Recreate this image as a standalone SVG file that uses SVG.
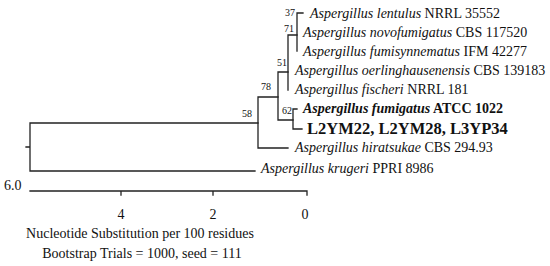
<svg xmlns="http://www.w3.org/2000/svg" width="550" height="266" viewBox="0 0 550 266" font-family="'Liberation Serif','Times New Roman',serif">
<style>
.e{stroke:#222;stroke-width:1.3;fill:none;stroke-linecap:square}
text{font-family:"Liberation Serif","Times New Roman",serif;fill:#111}
.t{font-size:14px}
.b{font-size:10px}
.i{font-style:italic}
.bd{font-weight:bold}
.bl{font-size:16.5px;font-weight:bold}
</style>
<rect width="550" height="266" fill="#fff"/>
<g id="connectors">
<path class="e" d="M26,147H30M30,123V171M30,123H258M30,171H255"/>
<path class="e" d="M258,97V148M258,148H288M258,97H278"/>
<path class="e" d="M278,72V120M278,72H288M278,120H293"/>
<path class="e" d="M288,35V90M288,35H297"/>
<path class="e" d="M297,13V51M297,13H303"/>
<path class="e" d="M293,109V129M293,109H297M293,129H302"/>
</g>
<g id="boot">
<text class="b" x="285" y="16">37</text>
<text class="b" x="284" y="32">71</text>
<text class="b" x="277" y="66">51</text>
<text class="b" x="261" y="90">78</text>
<text class="b" x="242" y="117">58</text>
<text class="b" x="282" y="114">62</text>
</g>
<g id="lentulus"><text class="t" x="310" y="18"><tspan class="i">Aspergillus lentulus</tspan> NRRL 35552</text></g>
<g id="novofumigatus"><text class="t" x="303" y="37"><tspan class="i">Aspergillus novofumigatus</tspan> CBS 117520</text></g>
<g id="fumisynnematus"><text class="t" x="303" y="56"><tspan class="i">Aspergillus fumisynnematus</tspan> IFM 42277</text></g>
<g id="oerlinghausenensis"><text class="t" x="295" y="75"><tspan class="i">Aspergillus oerlinghausenensis</tspan> CBS 139183</text></g>
<g id="fischeri"><text class="t" x="295" y="94"><tspan class="i">Aspergillus fischeri</tspan> NRRL 181</text></g>
<g id="fumigatus"><text class="t bd" x="303" y="113"><tspan class="i">Aspergillus fumigatus</tspan> ATCC 1022</text></g>
<g id="isolates"><text class="bl" x="307" y="134">L2YM22, L2YM28, L3YP34</text></g>
<g id="hiratsukae"><text class="t" x="295" y="152"><tspan class="i">Aspergillus hiratsukae</tspan> CBS 294.93</text></g>
<g id="krugeri"><text class="t" x="261" y="173"><tspan class="i">Aspergillus krugeri</tspan> PPRI 8986</text></g>
<g id="scale">
<path class="e" d="M30,191H307V195M121,191V195M213,191V195"/>
<text class="t" x="4" y="190">6.0</text>
<text class="t" x="121" y="219" text-anchor="middle">4</text>
<text class="t" x="213" y="219" text-anchor="middle">2</text>
<text class="t" x="305" y="219" text-anchor="middle">0</text>
<text class="t" x="140" y="238" text-anchor="middle">Nucleotide Substitution per 100 residues</text>
<text class="t" x="142" y="258" text-anchor="middle">Bootstrap Trials = 1000, seed = 111</text>
</g>
</svg>
